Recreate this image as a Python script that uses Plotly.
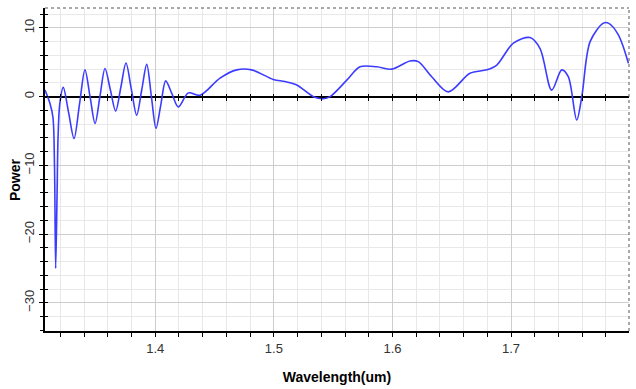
import plotly.graph_objects as go

wavelength = [1.3070, 1.3112, 1.3137, 1.3150, 1.3160, 1.3172, 1.3180, 1.3195, 1.3224, 1.3270,
              1.3315, 1.3361, 1.3407, 1.3450, 1.3492, 1.3534, 1.3576, 1.3621, 1.3666, 1.3710,
              1.3753, 1.3798, 1.3843, 1.3886, 1.3928, 1.3967, 1.4006, 1.4047, 1.4088, 1.4141,
              1.4194, 1.4279, 1.4377, 1.4546, 1.4687, 1.4813, 1.4995, 1.5094, 1.5193, 1.5333,
              1.5417, 1.5474, 1.5615, 1.5727, 1.5868, 1.5994, 1.6148, 1.6218, 1.6331, 1.6471,
              1.6654, 1.6795, 1.6880, 1.7020, 1.7160, 1.7245, 1.7343, 1.7428, 1.7483, 1.7554,
              1.7597, 1.7667, 1.7779, 1.7821, 1.7905, 1.7990]
power = [0.95, -1.0, -3.0, -10, -25, -14, -6, -1, 1.35, -2.4,
         -6.1, -1.1, 3.9, 0.0, -3.9, 0.1, 4.1, 1.0, -2.1, 1.4,
         4.9, 1.1, -2.7, 1.0, 4.7, 0.05, -4.6, -1.15, 2.3, 0.4,
         -1.5, 0.55, 0.2, 2.7, 3.9, 3.9, 2.5, 2.2, 1.7, 0,
         -0.3, 0, 2.4, 4.35, 4.35, 4.0, 5.2, 5.1, 2.9, 0.7,
         3.4, 3.9, 4.6, 7.8, 8.6, 7.0, 0.95, 3.9, 2.9, -3.4,
         0, 8.0, 10.7, 10.7, 9.0, 4.85]

x_range = [1.307, 1.7995]
y_range = [-34.1, 12.9]
zero_pos = (0 - y_range[0]) / (y_range[1] - y_range[0])

fig = go.Figure()
fig.add_trace(go.Scatter(x=wavelength, y=power, mode="lines",
                         line=dict(color="#3c3cff", width=1.6, shape="spline", smoothing=0.9),
                         showlegend=False))
# helper traces for the zero-line tick axes
for ax in ["x2", "x3"]:
    fig.add_trace(go.Scatter(x=[wavelength[0]], y=[power[0]], xaxis=ax, yaxis="y",
                             mode="markers", marker=dict(opacity=0), showlegend=False, hoverinfo="skip"))
fig.add_trace(go.Scatter(x=[wavelength[0]], y=[power[0]], xaxis="x", yaxis="y2",
                         mode="markers", marker=dict(opacity=0), showlegend=False, hoverinfo="skip"))

tickfont = dict(family="Liberation Sans, Arial", size=13, color="#333333")

fig.update_layout(
    width=636, height=389,
    margin=dict(l=45, r=7, t=8, b=58),
    paper_bgcolor="white", plot_bgcolor="white",
    xaxis=dict(range=x_range, tick0=1.4, dtick=0.1, showgrid=True, gridcolor="#cdcdcd", gridwidth=1,
               minor=dict(dtick=0.02, showgrid=True, gridcolor="#e8e8e8", ticks="outside", ticklen=4,
                          tickcolor="black"),
               ticks="outside", ticklen=4, tickcolor="black", tickfont=tickfont,
               showline=True, linecolor="black", linewidth=2, zeroline=False,
               title=dict(text="<b>Wavelength(um)</b>", font=dict(family="Liberation Sans, Arial", size=14, color="black"),
                          standoff=18)),
    xaxis2=dict(range=x_range, overlaying="x", anchor="free", position=zero_pos, tick0=1.4, dtick=0.02,
                ticks="outside", ticklen=3, tickcolor="black", showticklabels=False, showgrid=False,
                zeroline=False, showline=False),
    xaxis3=dict(range=x_range, overlaying="x", anchor="free", position=zero_pos, tick0=1.4, dtick=0.02,
                ticks="inside", ticklen=3, tickcolor="black", showticklabels=False, showgrid=False,
                zeroline=False, showline=False),
    yaxis=dict(range=y_range, tick0=0, dtick=10, showgrid=True, gridcolor="#cdcdcd",
               minor=dict(dtick=2, showgrid=True, gridcolor="#e8e8e8", ticks="outside", ticklen=3,
                          tickcolor="black"),
               ticks="outside", ticklen=4, tickcolor="black", tickfont=tickfont, tickangle=-90,
               showline=True, linecolor="black", linewidth=2,
               zeroline=True, zerolinecolor="black", zerolinewidth=2),
    yaxis2=dict(range=y_range, overlaying="y", side="left", tick0=0, dtick=2, ticks="inside", ticklen=3,
                tickcolor="black", showticklabels=False, showgrid=False, zeroline=False, showline=False),
    annotations=[
        dict(text="<b>Power</b>", xref="paper", yref="paper", x=-0.0515, y=0.47,
             xanchor="center", yanchor="middle", textangle=-90, showarrow=False,
             font=dict(family="Liberation Sans, Arial", size=14, color="black")),
    ],
    shapes=[
        dict(type="line", xref="paper", yref="paper", x0=0, x1=1, y0=1, y1=1,
             line=dict(color="#555555", width=1, dash="dot")),
        dict(type="line", xref="paper", yref="paper", x0=1, x1=1, y0=0, y1=1,
             line=dict(color="#555555", width=1, dash="dot")),
    ],
)

fig.write_html("out.html")
